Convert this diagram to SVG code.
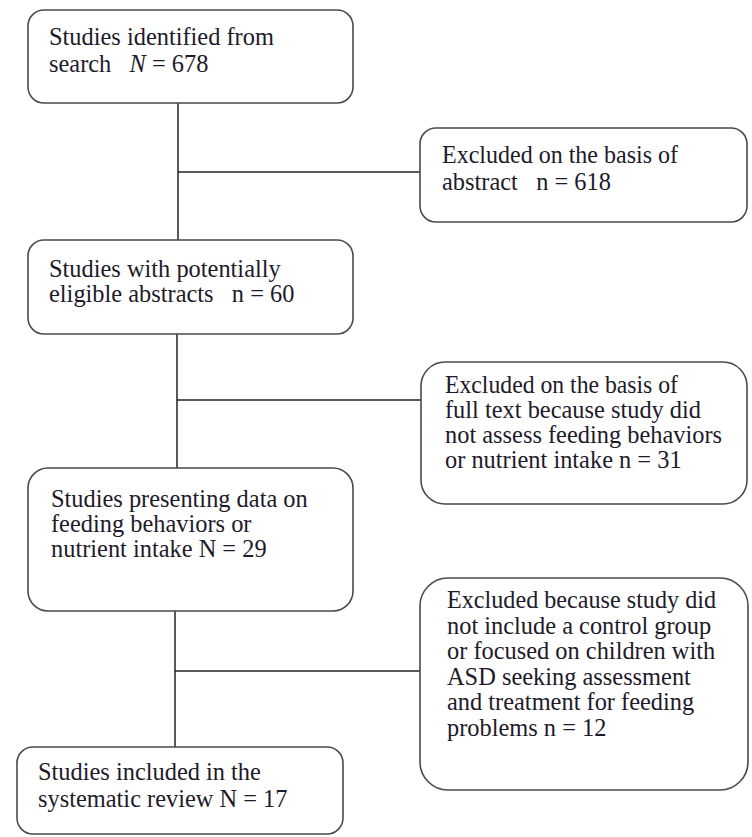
<svg xmlns="http://www.w3.org/2000/svg" width="752" height="837" viewBox="0 0 752 837">
<style>
.box{fill:#fff;stroke:#4a4a4a;stroke-width:1.6}
text{font-family:'Liberation Serif','DejaVu Serif',serif;font-size:24.4px;fill:#1e1a2a;white-space:pre}
.c{stroke:#222;stroke-width:1.5;fill:none}
</style>
<rect width="752" height="837" fill="#fff"/>
<g id="connectors">
<line class="c" x1="178" y1="103" x2="178" y2="240"/>
<line class="c" x1="178" y1="172" x2="420" y2="172"/>
<line class="c" x1="177" y1="334" x2="177" y2="468"/>
<line class="c" x1="177" y1="400" x2="421" y2="400"/>
<line class="c" x1="175" y1="611" x2="175" y2="747"/>
<line class="c" x1="175" y1="671" x2="420" y2="671"/>
</g>
<g id="n1"><rect class="box" x="28" y="10" width="325" height="93" rx="16"/>
<text x="49" y="45">Studies identified from</text>
<text x="49" y="72" xml:space="preserve">search   <tspan font-style="italic">N</tspan> = 678</text></g>
<g id="n2"><rect class="box" x="420" y="128" width="327" height="94" rx="16"/>
<text x="442" y="163" textLength="236" lengthAdjust="spacingAndGlyphs">Excluded on the basis of</text>
<text x="442" y="190" xml:space="preserve">abstract   n = 618</text></g>
<g id="n3"><rect class="box" x="28" y="240" width="325" height="94" rx="16"/>
<text x="49" y="277">Studies with potentially</text>
<text x="49" y="302" xml:space="preserve">eligible abstracts   n = 60</text></g>
<g id="n4"><rect class="box" x="421" y="362" width="326" height="142" rx="24"/>
<text x="445" y="393" textLength="233" lengthAdjust="spacingAndGlyphs">Excluded on the basis of</text>
<text x="445" y="418">full text because study did</text>
<text x="445" y="443">not assess feeding behaviors</text>
<text x="445" y="468">or nutrient intake n = 31</text></g>
<g id="n5"><rect class="box" x="28" y="468" width="325" height="143" rx="20"/>
<text x="51" y="507">Studies presenting data on</text>
<text x="51" y="532">feeding behaviors or</text>
<text x="51" y="557">nutrient intake N = 29</text></g>
<g id="n6"><rect class="box" x="420" y="578" width="328" height="212" rx="28"/>
<text x="447" y="608" textLength="269" lengthAdjust="spacingAndGlyphs">Excluded because study did</text>
<text x="447" y="633.5">not include a control group</text>
<text x="447" y="659">or focused on children with</text>
<text x="447" y="684.5">ASD seeking assessment</text>
<text x="447" y="710">and treatment for feeding</text>
<text x="447" y="735.5">problems n = 12</text></g>
<g id="n7"><rect class="box" x="17" y="747" width="326" height="87" rx="16"/>
<text x="38" y="780">Studies included in the</text>
<text x="38" y="807">systematic review N = 17</text></g>
</svg>
